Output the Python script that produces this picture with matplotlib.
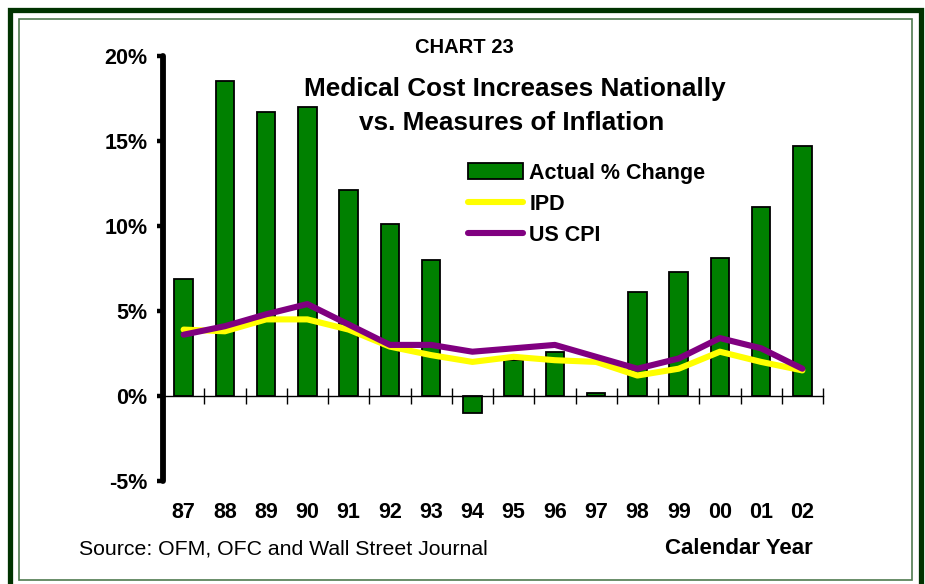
import matplotlib
matplotlib.use("Agg")
import matplotlib.pyplot as plt
from matplotlib.patches import Rectangle, Patch
from matplotlib.lines import Line2D
import numpy as np

plt.rcParams['font.family'] = ['Liberation Sans', 'DejaVu Sans']

# ---- data ----
years = ["87", "88", "89", "90", "91", "92", "93", "94", "95", "96", "97", "98", "99", "00", "01", "02"]
actual_change = [6.9, 18.5, 16.7, 17.0, 12.1, 10.1, 8.0, -1.0, 2.1, 2.6, 0.2, 6.1, 7.3, 8.1, 11.1, 14.7]
ipd = [3.9, 3.8, 4.5, 4.5, 3.9, 2.9, 2.4, 2.0, 2.3, 2.1, 2.0, 1.2, 1.6, 2.6, 2.0, 1.5]
us_cpi = [3.6, 4.1, 4.8, 5.4, 4.2, 3.0, 3.0, 2.6, 2.8, 3.0, 2.3, 1.6, 2.2, 3.4, 2.8, 1.6]
y_ticks = [-5, 0, 5, 10, 15, 20]
legend_labels = ["Actual % Change", "IPD", "US CPI"]
chart_label = "CHART 23"
title_lines = ["Medical Cost Increases Nationally", "vs. Measures of Inflation"]
source_text = "Source: OFM, OFC and Wall Street Journal"
xlabel_text = "Calendar Year"

W, H = 925, 584
DPI = 100
fig = plt.figure(figsize=(W / DPI, H / DPI), dpi=DPI)
fig.patch.set_facecolor("white")

def fx(x):
    return x / W

def fy(y):
    return 1 - y / H

# axes placement (pixel measurements from reference)
ax_left, ax_right, ax_top, ax_bottom = 163, 823, 55.7, 481
ax = fig.add_axes([fx(ax_left), fy(ax_bottom), fx(ax_right) - fx(ax_left), fy(ax_top) - fy(ax_bottom)])
ax.set_facecolor("none")

LW = 4.4
x = np.arange(len(years))
ax.bar(x, actual_change, width=0.45, color="#008000", edgecolor="black", linewidth=1.3, zorder=2)
ax.plot(x, ipd, color="#FFFF00", linewidth=LW, solid_joinstyle="round", solid_capstyle="round", zorder=3)
ax.plot(x, us_cpi, color="#800080", linewidth=LW, solid_joinstyle="round", solid_capstyle="round", zorder=4)

ax.set_xlim(-0.5, len(years) - 0.5)
ax.set_ylim(min(y_ticks), max(y_ticks))

# y axis: thick spine with round caps
for s in ["top", "right"]:
    ax.spines[s].set_visible(False)
ax.spines["left"].set_linewidth(4.2)
ax.spines["left"].set_capstyle("round")
ax.set_yticks(y_ticks)
ax.set_yticklabels([f"{v}%" for v in y_ticks], fontsize=15.5, fontweight="bold")
ax.tick_params(axis="y", length=4, width=3.2, pad=7, direction="out")

# x axis at zero with ticks at category boundaries
ax.spines["bottom"].set_position(("data", 0))
ax.spines["bottom"].set_linewidth(1.0)
ax.set_xticks(np.arange(len(years) + 1) - 0.5)
ax.set_xticklabels([])
ax.tick_params(axis="x", direction="inout", length=11, width=1.0)

# category labels below the plot area
for i, lab in enumerate(years):
    ax.annotate(lab, xy=(i, 0), xycoords=("data", "axes fraction"),
                xytext=(0, -22.5), textcoords="offset points",
                ha="center", va="center", fontsize=15.5, fontweight="bold")

# titles
fig.text(fx(464), fy(47.5), chart_label, ha="center", va="center", fontsize=14.5, fontweight="bold")
fig.text(fx(515), fy(89), title_lines[0], ha="center", va="center", fontsize=18.8, fontweight="bold")
fig.text(fx(512), fy(123), title_lines[1], ha="center", va="center", fontsize=18.8, fontweight="bold")

# legend
handles = [
    Patch(facecolor="#008000", edgecolor="black", linewidth=1.3),
    Line2D([], [], color="#FFFF00", linewidth=LW, solid_capstyle="round"),
    Line2D([], [], color="#800080", linewidth=LW, solid_capstyle="round"),
]
leg = fig.legend(handles, legend_labels, loc="upper left",
                 bbox_to_anchor=(fx(468), fy(162.5)), frameon=False,
                 prop={"size": 15.5, "weight": "bold"},
                 handlelength=2.56, handletextpad=0.28, labelspacing=0.47,
                 borderpad=0, borderaxespad=0)

# footer
fig.text(fx(79), fy(549), source_text, ha="left", va="center", fontsize=15.3)
fig.text(fx(813), fy(549), xlabel_text, ha="right", va="center", fontsize=16, fontweight="bold")

# frame: outer dark green band + inner thin line
fig.patches.append(Rectangle((fx(9.5), fy(588)), fx(920.5) - fx(9.5), fy(9.5) - fy(588),
                             transform=fig.transFigure, fill=False, edgecolor="#003300",
                             linewidth=3.8, zorder=10))
fig.patches.append(Rectangle((fx(19), fy(580)), fx(912) - fx(19), fy(18.5) - fy(580),
                             transform=fig.transFigure, fill=False, edgecolor="#4F7A4F",
                             linewidth=1.2, zorder=10))

fig.savefig("out.png", dpi=DPI, facecolor="white")
